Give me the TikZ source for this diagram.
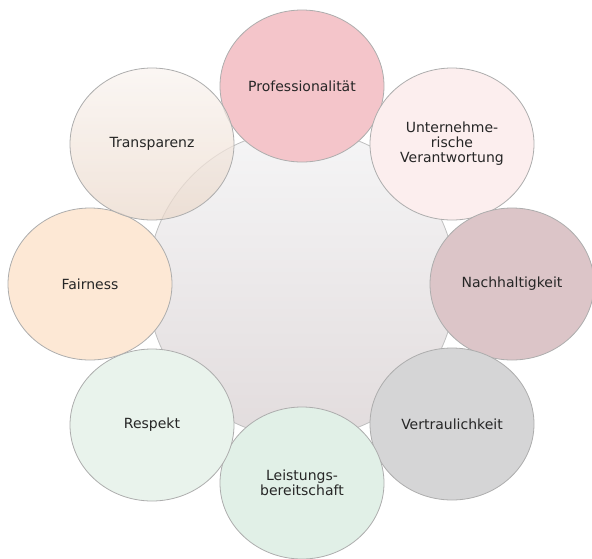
\documentclass[tikz,border=0pt]{standalone}
\usepackage{fontspec}
\setmainfont{DejaVu Sans}
\usetikzlibrary{shapes.geometric}
\definecolor{coretop}{HTML}{F5F5F6}
\definecolor{corebot}{HTML}{E2DCDD}
\definecolor{profcol}{HTML}{F4C5CA}
\definecolor{untercol}{HTML}{FCEEEE}
\definecolor{nachcol}{HTML}{DCC5C8}
\definecolor{vertrcol}{HTML}{D5D5D6}
\definecolor{leistcol}{HTML}{E1F0E7}
\definecolor{respcol}{HTML}{E9F3EC}
\definecolor{faircol}{HTML}{FDE8D5}
\definecolor{transptop}{HTML}{F9F3EF}
\definecolor{transpbot}{HTML}{EBD9CB}
\begin{document}
\begin{tikzpicture}[x=1pt,y=-1pt,
		value/.style={ellipse, draw=black!32, line width=0.8pt, minimum width=164pt, minimum height=152pt,
			inner sep=0pt, align=center, text=black!85, font=\fontsize{14}{15}\selectfont},
	]
	\useasboundingbox (0,0) rectangle (592,558);
	% central disc
	\node[circle, draw=black!25, line width=0.8pt, minimum size=308pt, inner sep=0pt,
		top color=coretop, bottom color=corebot] (core) at (301.5,284) {};
	% values, clockwise from the top
	\node[value, fill=profcol] (prof) at (302,86) {Professionalität};
	\node[value, fill=untercol] (unter) at (452,144) {Unternehme-\\rische\\Verantwortung};
	\node[value, fill=nachcol] (nach) at (512,284) {Nachhaltigkeit};
	\node[value, fill=vertrcol] (vertr) at (452,424) {Vertraulichkeit};
	\node[value, fill=leistcol] (leist) at (302,483) {Leistungs-\\bereitschaft};
	\node[value, fill=respcol] (resp) at (152,425) {Respekt};
	\node[value, fill=faircol] (fair) at (90,284) {Fairness};
	\node[value, top color=transptop, bottom color=transpbot, fill opacity=0.72, text opacity=1] (transp) at (152,144) {Transparenz};
\end{tikzpicture}
\end{document}
